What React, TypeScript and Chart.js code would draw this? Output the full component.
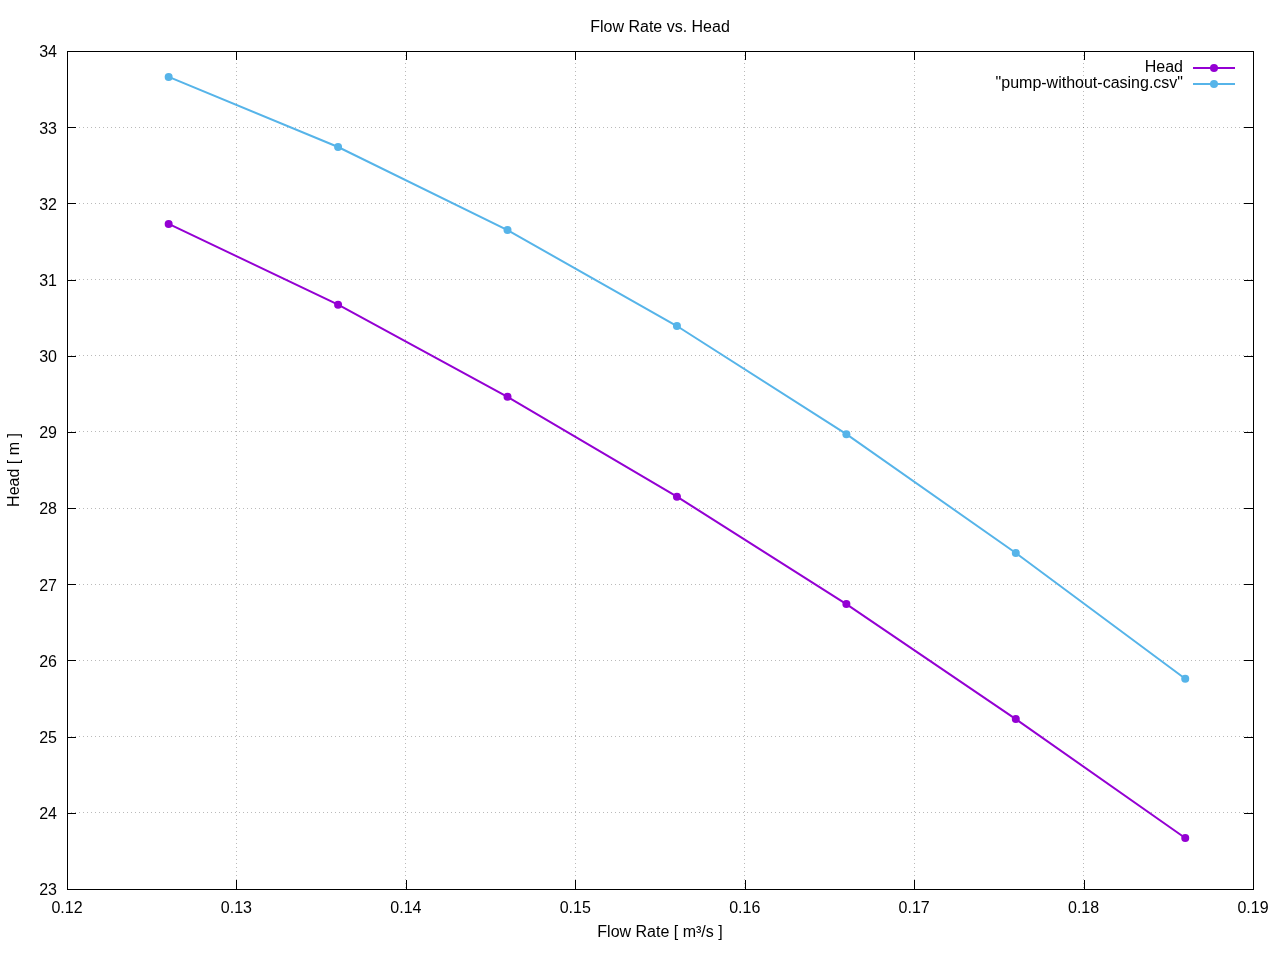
import React, { useEffect, useRef } from "react";
import { Chart, registerables } from "chart.js";

Chart.register(...registerables);

const flowRates = [0.126, 0.136, 0.146, 0.156, 0.166, 0.176, 0.186];
const headValues = [31.73, 30.67, 29.46, 28.15, 26.74, 25.23, 23.67];
const csvValues = [33.66, 32.74, 31.65, 30.39, 28.97, 27.41, 25.76];
const seriesLabels = ["Head", '"pump-without-casing.csv"'];
const seriesColors = ["#9400D3", "#56B4E9"];
const chartTitle = "Flow Rate vs. Head";
const xTitle = "Flow Rate [ m\u00B3/s ]";
const yTitle = "Head [ m ]";

const FONT = "'Liberation Sans', Arial, sans-serif";
const FS = 16;

const framePlugin = {
  id: "gnuplotFrame",
  afterDatasetsDraw(chart: any) {
    const { ctx, chartArea } = chart;
    const { left, right, top, bottom } = chartArea;
    const xs = chart.scales.x;
    const ys = chart.scales.y;
    const tl = 9;
    ctx.save();
    ctx.strokeStyle = "#000";
    ctx.lineWidth = 1;
    ctx.beginPath();
    xs.ticks.forEach((t: any) => {
      const px = Math.round(xs.getPixelForValue(t.value)) + 0.5;
      ctx.moveTo(px, bottom);
      ctx.lineTo(px, bottom - tl);
      ctx.moveTo(px, top);
      ctx.lineTo(px, top + tl);
    });
    ys.ticks.forEach((t: any) => {
      const py = Math.round(ys.getPixelForValue(t.value)) + 0.5;
      ctx.moveTo(left, py);
      ctx.lineTo(left + tl, py);
      ctx.moveTo(right, py);
      ctx.lineTo(right - tl, py);
    });
    ctx.stroke();
    ctx.strokeRect(Math.round(left) + 0.5, Math.round(top) + 0.5, Math.round(right - left), Math.round(bottom - top));

    // chart title centred over the plot area
    ctx.font = FS + "px " + FONT;
    ctx.fillStyle = "#000";
    ctx.textAlign = "center";
    ctx.textBaseline = "middle";
    ctx.fillText(chartTitle, (left + right) / 2, top - 23);

    // legend, gnuplot style (top right, inside)
    ctx.textAlign = "right";
    chart.data.datasets.forEach((ds: any, i: number) => {
      const y = top + 17 + i * 16;
      ctx.fillStyle = "#000";
      ctx.fillText(ds.label, right - 70, y);
      ctx.strokeStyle = ds.borderColor;
      ctx.lineWidth = 2;
      ctx.beginPath();
      ctx.moveTo(right - 60, y);
      ctx.lineTo(right - 18, y);
      ctx.stroke();
      ctx.fillStyle = ds.backgroundColor;
      ctx.beginPath();
      ctx.arc(right - 39, y, 4, 0, Math.PI * 2);
      ctx.fill();
    });
    ctx.restore();
  },
};

export default function App() {
  const ref = useRef<HTMLCanvasElement>(null);
  useEffect(() => {
    if (!ref.current) return;
    const mk = (vals: number[], i: number) => ({
      label: seriesLabels[i],
      data: flowRates.map((x, k) => ({ x, y: vals[k] })),
      borderColor: seriesColors[i],
      backgroundColor: seriesColors[i],
      borderWidth: 2,
      pointRadius: 4,
      pointHoverRadius: 4,
      pointBorderWidth: 0,
      tension: 0,
    });
    const chart = new Chart(ref.current, {
      type: "line",
      data: { datasets: [mk(headValues, 0), mk(csvValues, 1)] },
      options: {
        animation: false,
        responsive: false,
        layout: { padding: { left: 0, right: 27, top: 51, bottom: 0 } },
        plugins: {
          legend: { display: false },
          tooltip: { enabled: false },
          title: { display: false },
        },
        scales: {
          x: {
            type: "linear",
            min: 0.12,
            max: 0.19,
            afterFit: (s: any) => {
              s.height = 71;
            },
            ticks: {
              stepSize: 0.01,
              color: "#000",
              font: { family: FONT, size: FS },
              padding: 10,
              maxRotation: 0,
              callback: (v: any) => Number(v).toFixed(2),
            },
            grid: { color: "rgba(0,0,0,0.27)", drawTicks: false, lineWidth: 1 },
            border: { display: false, dash: [1, 3] },
            title: {
              display: true,
              text: xTitle,
              color: "#000",
              font: { family: FONT, size: FS },
              padding: { top: 0, bottom: 18 },
            },
          },
          y: {
            type: "linear",
            min: 23,
            max: 34,
            afterFit: (s: any) => {
              s.width = 67;
            },
            ticks: {
              stepSize: 1,
              color: "#000",
              font: { family: FONT, size: FS },
              padding: 10,
              labelOffset: 2,
            },
            grid: { color: "rgba(0,0,0,0.27)", drawTicks: false, lineWidth: 1 },
            border: { display: false, dash: [1, 3] },
            title: {
              display: true,
              text: yTitle,
              color: "#000",
              font: { family: FONT, size: FS },
              padding: { top: 5, bottom: 0 },
            },
          },
        },
      },
      plugins: [framePlugin],
    } as any);
    return () => chart.destroy();
  }, []);
  return (
    <div style={{ position: "absolute", left: 0, top: 0, width: 1280, height: 960, background: "#fff" }}>
      <canvas ref={ref} width={1280} height={960} style={{ display: "block" }} />
    </div>
  );
}
